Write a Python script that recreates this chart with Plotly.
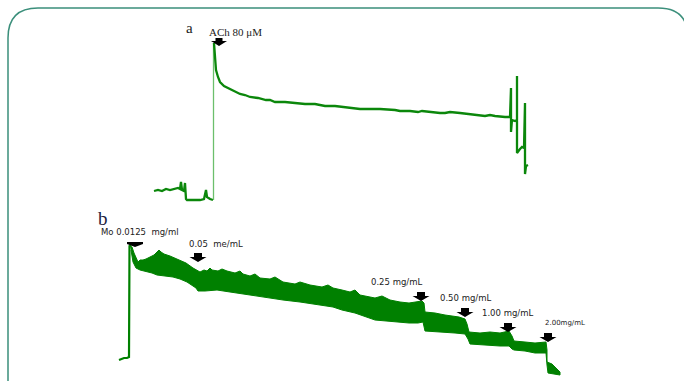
import plotly.graph_objects as go

# ---------------- Data (time in arbitrary units, tension level; y axis drawn downward) -------------
# Trace a: ACh 80 uM response
a_base_t = [154, 158, 162, 166, 170, 174, 178, 180, 181, 182, 184, 185, 186, 187, 195, 200, 204, 206, 207, 210, 213]
a_base_v = [191, 190, 191, 189, 190, 189, 188, 189, 182, 190, 191, 183, 199, 200, 200, 200, 199, 190, 197, 199, 200]
a_rise_t = [213.5, 213.5]
a_rise_v = [200, 43]
a_resp_t = [214, 215, 216, 218, 220, 224, 228, 233, 236, 240, 245, 250, 258, 266, 270, 275, 285, 295, 305,
            315, 325, 335, 342, 352, 360, 370, 380, 395, 400, 410, 418, 422, 430, 440, 445, 450, 460, 475,
            485, 490, 495, 505, 510, 511, 511, 512, 515, 517, 517, 517, 520, 522, 524, 525, 525, 526, 528]
a_resp_v = [43, 62, 70, 77, 82, 86, 88, 90, 92, 94, 95, 97, 98, 100, 100, 102, 102, 103, 104,
            104, 106, 106, 107, 108, 109, 109, 109, 110, 111, 111, 112, 111, 112, 113, 113, 112, 113, 115,
            116, 115, 116, 117, 117, 88, 132, 120, 121, 120, 76, 153, 149, 147, 148, 103, 174, 166, 165]

# Trace b: Mo cumulative doses (oscillating band: upper / lower envelopes)
b_base_t = [119, 121, 124, 127, 129, 129.5, 131]
b_base_v = [360, 359, 358, 358, 357, 246, 245]
b_up_t = [130, 132, 134, 136, 138, 140, 143, 146, 150, 154, 157, 159, 161, 164, 170, 175, 180, 186, 193, 198,
          200, 204, 207, 210, 212, 218, 222, 227, 235, 240, 243, 250, 255, 260, 270, 275, 283, 295, 300, 310,
          322, 328, 333, 342, 350, 355, 360, 375, 382, 390, 400, 409, 415, 422, 424, 425, 435, 445, 459, 465,
          467, 469, 480, 490, 500, 509, 512, 514, 525, 535, 546, 547, 547, 552, 556, 560]
b_up_v = [246, 247, 253, 257, 262, 260, 260, 259, 257, 255, 252, 250, 252, 254, 256, 258, 260, 263, 268, 271,
          272, 270, 271, 268, 270, 271, 269, 271, 273, 271, 274, 276, 274, 278, 279, 277, 282, 284, 282, 285,
          287, 285, 288, 290, 292, 290, 295, 298, 296, 300, 302, 303, 302, 301, 303, 312, 313, 315, 317, 319,
          324, 332, 333, 332, 333, 331, 336, 341, 342, 343, 342, 350, 362, 364, 368, 372]
b_lo_t = [131, 133, 136, 140, 147, 152, 157, 165, 173, 180, 187, 192, 196, 198, 205, 217, 230, 250, 265, 283,
          300, 315, 333, 342, 355, 375, 390, 409, 418, 423, 425, 440, 455, 465, 468, 470, 485, 500, 509, 512,
          514, 525, 535, 546, 547, 548, 552, 560]
b_lo_v = [250, 262, 268, 270, 272, 273, 275, 276, 277, 279, 282, 285, 288, 291, 291, 290, 292, 295, 297, 300,
          302, 304, 307, 310, 313, 320, 321, 323, 323, 322, 331, 332, 333, 334, 339, 344, 345, 346, 346, 349,
          350, 351, 353, 353, 365, 373, 374, 375]

# Dose markers
a_dose_t = [219]
a_dose_label = ["ACh 80 \u03bcM"]
b_dose_t = [135, 198, 421, 465, 508, 548]
b_dose_label = ["Mo 0.0125  mg/ml", "0.05  me/mL", "0.25 mg/mL", "0.50 mg/mL", "1.00 mg/mL", "2.00mg/mL"]
b_arrow_top = [242, 253, 292, 308, 323, 333]
b_label_x = [140, 216, 396, 465, 507, 565]
b_label_y = [232, 244, 282, 298, 313, 323]

GREEN = "#008000"

fig = go.Figure()

fig.add_trace(go.Scatter(x=a_base_t, y=a_base_v, mode="lines",
                         line=dict(color="#0b870b", width=2.3), hoverinfo="skip"))
fig.add_trace(go.Scatter(x=a_rise_t, y=a_rise_v, mode="lines",
                         line=dict(color="#6cbf6c", width=1.3), hoverinfo="skip"))
fig.add_trace(go.Scatter(x=a_resp_t, y=a_resp_v, mode="lines",
                         line=dict(color="#0b870b", width=2.3), hoverinfo="skip"))

band_x = b_up_t + b_lo_t[::-1]
band_y = b_up_v + b_lo_v[::-1]
fig.add_trace(go.Scatter(x=band_x, y=band_y, mode="lines", fill="toself", fillcolor=GREEN,
                         line=dict(color=GREEN, width=1), hoverinfo="skip"))
fig.add_trace(go.Scatter(x=b_base_t, y=b_base_v, mode="lines",
                         line=dict(color=GREEN, width=2.2), hoverinfo="skip"))


def arrow_path(cx, top, shaft_h, head_h, shaft_w=3.5, head_w=8.5):
    y1 = top + shaft_h
    y2 = y1 + head_h
    return (f"M {cx - shaft_w},{top} L {cx + shaft_w},{top} L {cx + shaft_w},{y1} "
            f"L {cx + head_w},{y1} L {cx},{y2} L {cx - head_w},{y1} L {cx - shaft_w},{y1} Z")


shapes = []
# arrow for trace a
shapes.append(dict(type="path", xref="x", yref="y", path=arrow_path(a_dose_t[0], 38, 3, 5, 3.5, 8),
                   fillcolor="black", line=dict(width=0)))
for i, t in enumerate(b_dose_t):
    if i == 0:
        p = arrow_path(t, b_arrow_top[i], 2, 3, 8, 8)
    else:
        p = arrow_path(t, b_arrow_top[i], 4, 5, 4, 8.5)
    shapes.append(dict(type="path", xref="x", yref="y", path=p, fillcolor="black", line=dict(width=0)))

# rounded frame
shapes.append(dict(type="path", xref="x", yref="y",
                   path="M 8,420 L 8,38 Q 8,8 38,8 L 658,8 Q 688,8 688,38 L 688,420",
                   line=dict(color="#3b8f7b", width=1.5)))

annotations = [
    dict(x=189, y=28, text="a", showarrow=False, xref="x", yref="y",
         font=dict(family="Liberation Serif", size=15, color="#222222")),
    dict(x=103, y=218, text="b", showarrow=False, xref="x", yref="y",
         font=dict(family="Liberation Serif", size=19, color="#1c1c40")),
    dict(x=235, y=32, text=a_dose_label[0], showarrow=False, xref="x", yref="y",
         font=dict(family="Liberation Serif", size=11, color="#222222")),
]
for i, lab in enumerate(b_dose_label):
    annotations.append(dict(x=b_label_x[i], y=b_label_y[i], text=lab, showarrow=False, xref="x", yref="y",
                            font=dict(family="DejaVu Sans", size=7 if i == 5 else 8.5, color="#222222")))

fig.update_layout(
    width=684, height=381,
    margin=dict(l=0, r=0, t=0, b=0),
    paper_bgcolor="white", plot_bgcolor="white",
    showlegend=False,
    xaxis=dict(range=[0, 684], visible=False, fixedrange=True),
    yaxis=dict(range=[381, 0], visible=False, fixedrange=True),
    shapes=shapes,
    annotations=annotations,
)

fig.write_html("out.html", config={"displayModeBar": False},
               post_script="document.body.style.margin='0';document.body.style.overflow='hidden';")
